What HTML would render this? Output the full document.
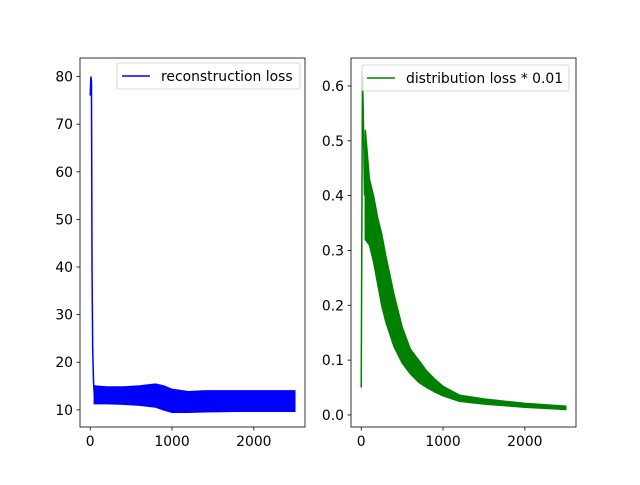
<!DOCTYPE html>
<html><head><meta charset="utf-8"><style>
body{margin:0;background:#fff}
svg text{font-family:"DejaVu Sans","Liberation Sans",sans-serif;font-size:13.9px;fill:#000}
</style></head><body>
<svg id="fig" width="640" height="480" xmlns="http://www.w3.org/2000/svg"></svg>
<script>
// Left chart: reconstruction loss
const recSpikeX = [0, 8, 15, 22, 30, 40, 50];
const recSpikeY = [76, 80, 79, 40, 23, 16, 13];
const recBandX = [50, 200, 400, 600, 800, 900, 1000, 1200, 1400, 1800, 2200, 2500];
const recUpper = [15.0, 14.8, 14.8, 15.0, 15.4, 15.0, 14.3, 13.8, 14.0, 14.0, 14.0, 14.0];
const recLower = [11.3, 11.3, 11.2, 11.0, 10.6, 10.0, 9.5, 9.5, 9.6, 9.7, 9.7, 9.7];
const recYTicks = [10, 20, 30, 40, 50, 60, 70, 80];
// Right chart: distribution loss * 0.01
const distSpikeX = [0, 15, 25, 40, 50];
const distSpikeY = [0.05, 0.62, 0.55, 0.40, 0.45];
const distBandX = [50, 100, 150, 200, 250, 300, 400, 500, 600, 700, 800, 900, 1000, 1200, 1500, 2000, 2500];
const distUpper = [0.52, 0.43, 0.40, 0.36, 0.33, 0.29, 0.22, 0.16, 0.12, 0.10, 0.08, 0.065, 0.052, 0.036, 0.029, 0.021, 0.016];
const distLower = [0.32, 0.31, 0.28, 0.24, 0.20, 0.17, 0.125, 0.095, 0.075, 0.06, 0.05, 0.042, 0.035, 0.025, 0.02, 0.014, 0.010];
const distYTicks = [0.0, 0.1, 0.2, 0.3, 0.4, 0.5, 0.6];
const xTicks = [0, 1000, 2000];

const NS = "http://www.w3.org/2000/svg";
const svg = document.getElementById('fig');
function el(tag, attrs, parent){const e=document.createElementNS(NS,tag);for(const k in attrs)e.setAttribute(k,attrs[k]);(parent||svg).appendChild(e);return e;}

function chart(opt){
  const g = el('g',{});
  
  
  const L=opt.left,R=opt.left+225,T=58,B=427;
  const xs=v=>L+(v+125)/2750*(R-L);
  const ys=v=>B-(v-opt.ymin)/(opt.ymax-opt.ymin)*(B-T);
  let pts=opt.bx.map((x,i)=>xs(x)+','+ys(opt.bu[i]));
  for(let i=opt.bx.length-1;i>=0;i--)pts.push(xs(opt.bx[i])+','+ys(opt.bl[i]));
  const band=el('polygon',{points:pts.join(' '),fill:opt.color,stroke:opt.color,'stroke-width':1.5},g);
  
  
  const sp=el('polyline',{points:opt.sx.map((x,i)=>xs(x)+','+ys(opt.sy[i])).join(' '),fill:'none',stroke:opt.color,'stroke-width':1.5},g);
  
  
  const fr=el('rect',{x:L,y:T,width:R-L,height:B-T,fill:'none',stroke:'#000','stroke-width':0.8},g);
  
  
  xTicks.forEach(t=>{
    el('line',{x1:xs(t),x2:xs(t),y1:B,y2:B+3.5,stroke:'#000','stroke-width':0.8},g);
    const tx=el('text',{x:xs(t),y:B+19,'text-anchor':'middle'},g);tx.textContent=t;
    
    
  });
  opt.yt.forEach(t=>{
    el('line',{x1:L-3.5,x2:L,y1:ys(t),y2:ys(t),stroke:'#000','stroke-width':0.8},g);
    const tx=el('text',{x:L-7,y:ys(t)+5,'text-anchor':'end'},g);tx.textContent=opt.fmt(t);
    
    
  });
  const lg=el('g',{},g);
  
  
  el('rect',{x:opt.lx,y:opt.ly,width:opt.lw,height:26,rx:2,fill:'#fff','fill-opacity':0.8,stroke:'#ccc','stroke-width':0.8},lg);
  el('line',{x1:opt.lx+5,x2:opt.lx+33,y1:opt.ly+13,y2:opt.ly+13,stroke:opt.color,'stroke-width':1.5},lg);
  const lt=el('text',{x:opt.lx+44,y:opt.ly+18},lg);lt.textContent=opt.label;
  
  
}
chart({name:'reconstruction-loss-chart',left:80,ymin:6.4,ymax:83.9,color:'#0000ff',bx:recBandX,bu:recUpper,bl:recLower,sx:recSpikeX,sy:recSpikeY,yt:recYTicks,fmt:t=>t,lx:117,ly:63,lw:183,label:'reconstruction loss'});
chart({name:'distribution-loss-chart',left:351,ymin:-0.0220,ymax:0.651,color:'#008000',bx:distBandX,bu:distUpper,bl:distLower,sx:distSpikeX,sy:distSpikeY,yt:distYTicks,fmt:t=>t.toFixed(1),lx:362,ly:65,lw:207,label:'distribution loss * 0.01'});
</script>
</body></html>
